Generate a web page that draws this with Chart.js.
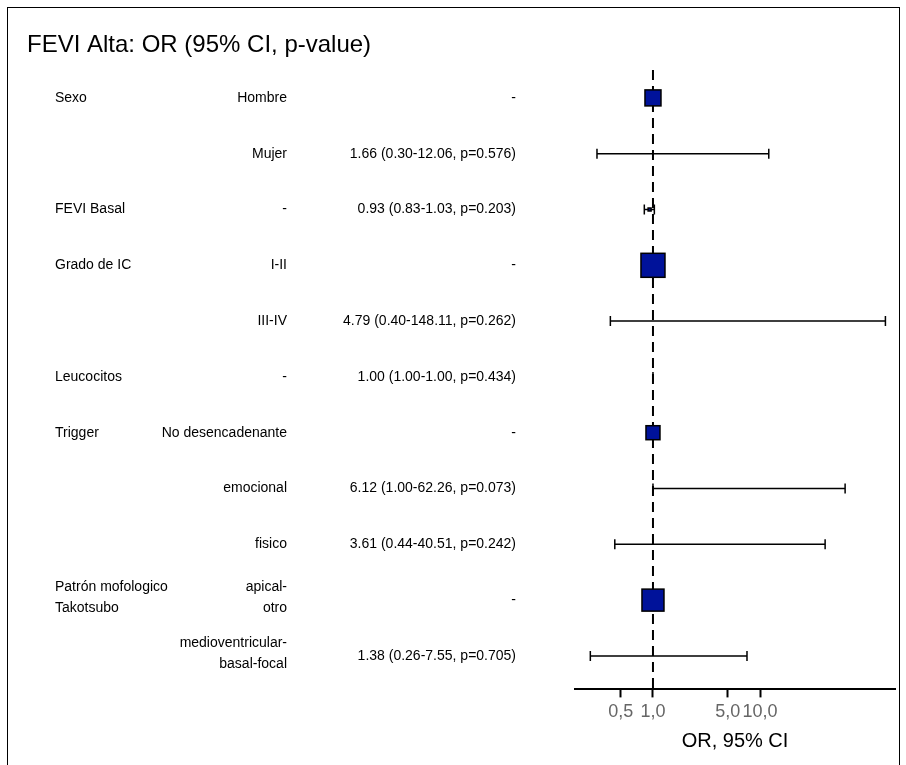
<!DOCTYPE html>
<html>
<head>
<meta charset="utf-8">
<script src="https://cdn.jsdelivr.net/npm/chart.js@4"></script>
<style>
  body { margin: 0; background: #fff; }
  #wrap { position: absolute; left: 7px; top: 7px; width: 893px; height: 770px; border: 1.5px solid #000; box-sizing: border-box; }
  #cv { position: absolute; left: 0; top: 0; }
</style>
</head>
<body>
<div id="wrap"></div>
<canvas id="cv" width="906" height="765"></canvas>
<script>
// filas del forest plot
var variables = ['Sexo', '', 'FEVI Basal', 'Grado de IC', '', 'Leucocitos', 'Trigger', '', '', ['Patrón mofologico', 'Takotsubo'], ''];
var niveles = ['Hombre', 'Mujer', '-', 'I-II', 'III-IV', '-', 'No desencadenante', 'emocional', 'fisico', ['apical-', 'otro'], ['medioventricular-', 'basal-focal']];
var textoOR = ['-', '1.66 (0.30-12.06, p=0.576)', '0.93 (0.83-1.03, p=0.203)', '-', '4.79 (0.40-148.11, p=0.262)', '1.00 (1.00-1.00, p=0.434)', '-', '6.12 (1.00-62.26, p=0.073)', '3.61 (0.44-40.51, p=0.242)', '-', '1.38 (0.26-7.55, p=0.705)'];
var orVal = [1, 1.66, 0.93, 1, 4.79, 1.00, 1, 6.12, 3.61, 1, 1.38];
var ciLow = [null, 0.30, 0.83, null, 0.40, 1.00, null, 1.00, 0.44, null, 0.26];
var ciHigh = [null, 12.06, 1.03, null, 148.11, 1.00, null, 62.26, 40.51, null, 7.55];
var pesos = [16, 0, 3, 24, 0, 0, 14, 0, 0, 22, 0]; // tamaño de los cuadrados de referencia
var xTicks = [0.5, 1, 5, 10];

var puntos = orVal.map(function(v, i) { return { x: v, y: i }; });

var forestPlugin = {
    id: 'forest',
    afterDatasetsDraw: function(chart) {
        var ctx = chart.ctx, xs = chart.scales.x, ys = chart.scales.y, a = chart.chartArea;
        ctx.save();
        // linea de referencia
        ctx.strokeStyle = '#000'; ctx.lineWidth = 2; ctx.setLineDash([10, 6]);
        ctx.beginPath(); ctx.moveTo(xs.getPixelForValue(1), a.top); ctx.lineTo(xs.getPixelForValue(1), a.bottom); ctx.stroke();
        ctx.setLineDash([]);
        ctx.lineWidth = 1.5;
        for (var i = 0; i < orVal.length; i++) {
            var y = ys.getPixelForValue(i);
            if (ciLow[i] !== null) {
                var x1 = xs.getPixelForValue(ciLow[i]), x2 = xs.getPixelForValue(ciHigh[i]);
                ctx.beginPath();
                ctx.moveTo(x1, y); ctx.lineTo(x2, y);
                ctx.moveTo(x1, y - 5); ctx.lineTo(x1, y + 5);
                ctx.moveTo(x2, y - 5); ctx.lineTo(x2, y + 5);
                ctx.stroke();
            }
            if (pesos[i] > 0) {
                var s = pesos[i], x = xs.getPixelForValue(orVal[i]);
                ctx.fillStyle = '#00129a';
                ctx.fillRect(x - s / 2, y - s / 2, s, s);
                ctx.strokeRect(x - s / 2, y - s / 2, s, s);
            }
            // textos
            ctx.fillStyle = '#000'; ctx.font = '14px "Liberation Sans", Arial';
            ctx.textBaseline = 'middle';
            var dibuja = function(t, xp, al) {
                ctx.textAlign = al;
                if (Array.isArray(t)) {
                    ctx.fillText(t[0], xp, y - 13); ctx.fillText(t[1], xp, y + 8);
                } else ctx.fillText(t, xp, y);
            };
            dibuja(variables[i], 55, 'left');
            dibuja(niveles[i], 287, 'right');
            dibuja(textoOR[i], 516, 'right');
        }
        ctx.font = '24px "Liberation Sans", Arial';
        ctx.textAlign = 'left';
        ctx.fillText('FEVI Alta: OR (95% CI, p-value)', 27, 45);
        ctx.restore();
    }
};

var ctx = document.getElementById('cv').getContext('2d');
var chart = new Chart(ctx, {
    type: 'scatter',
    data: { datasets: [{ data: puntos, pointRadius: 0 }] },
    options: {
        responsive: false,
        animation: false,
        layout: { padding: { left: 575, right: 11, top: 70, bottom: 8 } },
        plugins: { legend: { display: false }, tooltip: { enabled: false } },
        scales: {
            x: {
                type: 'logarithmic', min: 0.187, max: 182,
                afterBuildTicks: function(ax) { ax.ticks = xTicks.map(function(v) { return { value: v }; }); },
                ticks: {
                    autoSkip: false, maxRotation: 0, color: '#666', padding: 4,
                    font: { size: 18, family: '"Liberation Sans", Arial' },
                    callback: function(v) { return v.toFixed(1).replace('.', ','); }
                },
                grid: { display: true, drawOnChartArea: false, drawTicks: true, tickLength: 8, tickColor: '#000', tickWidth: 2 },
                border: { color: '#000', width: 2 },
                title: { display: true, text: 'OR, 95% CI', color: '#000', font: { size: 20, family: '"Liberation Sans", Arial' }, padding: { top: 2, bottom: 4 } }
            },
            y: {
                type: 'linear', min: -0.5, max: 10.6, reverse: true, display: false
            }
        }
    },
    plugins: [forestPlugin]
});
</script>
</body>
</html>
